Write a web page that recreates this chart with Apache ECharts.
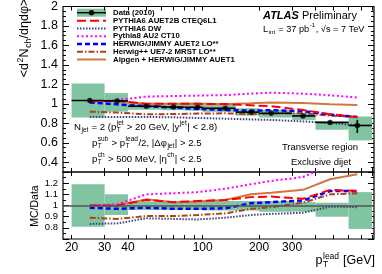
<!DOCTYPE html>
<html><head><meta charset="utf-8">
<script src="https://cdn.jsdelivr.net/npm/echarts@6/dist/echarts.min.js"></script>
<style>html,body{margin:0;padding:0;background:#fff}#c{width:382px;height:274px}</style>
</head><body><div id="c"></div>
<script>
// ---------- data ----------
const binEdges = [20, 30, 40, 60, 80, 100, 150, 200, 300, 400, 600, 800];
const ptCenters = [25, 35, 50, 70, 94, 132, 181, 232, 343, 478, 668];
const dataVal = [1.035, 1.03, 0.975, 0.967, 0.965, 0.955, 0.915, 0.903, 0.876, 0.808, 0.778];
const dataErrLo = [1.03, 1.025, 0.97, 0.962, 0.96, 0.95, 0.91, 0.898, 0.868, 0.795, 0.70];
const dataErrHi = [1.04, 1.035, 0.98, 0.972, 0.97, 0.96, 0.92, 0.908, 0.884, 0.82, 0.835];
const bandLo = [0.86, 0.92, 0.94, 0.935, 0.93, 0.92, 0.88, 0.86, 0.835, 0.735, 0.625];
const bandHi = [1.21, 1.11, 1.01, 1.0, 1.0, 0.99, 0.955, 0.94, 0.905, 0.825, 0.87];
const ratioBandLo = [0.81, 0.915, 0.96, 0.96, 0.96, 0.955, 0.955, 0.945, 0.945, 0.90, 0.79];
const ratioBandHi = [1.19, 1.10, 1.035, 1.035, 1.035, 1.04, 1.04, 1.04, 1.03, 1.025, 1.12];

const mcAUET2B  = [1.03, 1.03, 1.0, 1.0, 1.0, 0.998, 0.985, 0.975, 0.937, 0.893, 0.865];
const mcDW      = [0.865, 0.865, 0.865, 0.862, 0.855, 0.848, 0.84, 0.835, 0.82, 0.805, 0.778];
const mcPythia8 = [1.02, 1.04, 1.075, 1.08, 1.085, 1.09, 1.105, 1.115, 1.105, 1.088, 1.065];
const mcHerwig  = [1.015, 0.995, 0.975, 0.962, 0.948, 0.937, 0.93, 0.935, 0.925, 0.89, 0.865];
const mcHerwigpp= [0.92, 0.91, 0.893, 0.895, 0.9, 0.903, 0.893, 0.9, 0.903, 0.88, 0.865];
const mcAlpgen  = [1.03, 1.03, 1.0, 1.0, 1.003, 0.995, 1.005, 1.015, 1.01, 0.997, 0.988];

const rAUET2B   = [1.0, 1.0, 1.05, 1.03, 1.04, 1.05, 1.075, 1.08, 1.06, 1.14, 1.13];
const rDW       = [0.835, 0.84, 0.885, 0.88, 0.875, 0.89, 0.915, 0.925, 0.935, 0.99, 0.985];
const rPythia8  = [1.0, 1.01, 1.1, 1.11, 1.12, 1.15, 1.19, 1.22, 1.255, 1.36, 1.37];
const rHerwig   = [0.98, 0.97, 0.98, 0.97, 0.97, 0.975, 1.02, 1.03, 1.045, 1.13, 1.13];
const rHerwigpp = [0.89, 0.88, 0.905, 0.905, 0.915, 0.93, 0.97, 0.985, 1.025, 1.1, 1.11];
const rAlpgen   = [1.0, 1.0, 1.055, 1.03, 1.035, 1.05, 1.1, 1.115, 1.14, 1.235, 1.28];

const xTickValues = [20, 30, 40, 50, 60, 70, 80, 90, 100, 200, 300, 400, 500, 600, 700, 800];
const xLabelValues = [20, 30, 40, 100, 200, 300];
const mainYLabels = [0.4, 0.6, 0.8, 1, 1.2, 1.4, 1.6, 1.8, 2];
const ratioYLabels = [0.8, 0.9, 1, 1.1, 1.2];
const ratioYMajor = [0.7, 0.8, 0.9, 1, 1.1, 1.2, 1.3];

const legendNames = ['Data (2010)', 'PYTHIA6 AUET2B CTEQ6L1', 'PYTHIA6 DW', 'Pythia8 AU2 CT10',
  'HERWIG/JIMMY AUET2 LO**', 'Herwig++ UE7-2 MRST LO**', 'Alpgen + HERWIG/JIMMY AUET1'];

// ---------- styles ----------
const FONT = 'Liberation Sans';
const GREEN = '#80c4a1';
const styles = {
  AUET2B:  {color: '#ff0000', width: 2, dash: [9, 4]},
  DW:      {color: '#40407f', width: 2, dash: [1.5, 1.5]},
  Pythia8: {color: '#ff00ff', width: 2, dash: [2, 2.5]},
  Herwig:  {color: '#0000ff', width: 2.5, dash: [5, 3]},
  Herwigpp:{color: '#a8441c', width: 2, dash: [6, 2, 1.5, 2]},
  Alpgen:  {color: '#d27640', width: 2, dash: null}
};
const mainSets = [['Alpgen', mcAlpgen], ['DW', mcDW], ['Herwigpp', mcHerwigpp], ['Pythia8', mcPythia8], ['Herwig', mcHerwig], ['AUET2B', mcAUET2B]];
const ratioSets = [['Alpgen', rAlpgen], ['DW', rDW], ['Herwigpp', rHerwigpp], ['Pythia8', rPythia8], ['Herwig', rHerwig], ['AUET2B', rAUET2B]];

const L = v => Math.log10(v);
function steps(a, b, s) { const out = []; for (let v = a; v <= b + 1e-9; v += s) out.push(+v.toFixed(3)); return out; }
const mainYMinor = steps(0.3, 2.0, 0.05);
const ratioYMinor = steps(0.7, 1.3, 0.05);

// ---------- rich text helper ----------
const mctx = document.createElement('canvas').getContext('2d');
function measure(s, size, weight, style) {
  mctx.font = `${style || 'normal'} ${weight || 'normal'} ${size}px "${FONT}"`;
  return mctx.measureText(s).width;
}
function txt(s, x, y, size, weight, style, color) {
  return {type: 'text', x: x, y: y, style: {text: s, fontSize: size, fontFamily: FONT, fontWeight: weight || 'normal',
    fontStyle: style || 'normal', fill: color || '#000', align: 'left', verticalAlign: 'middle',
    textAlign: 'left', textVerticalAlign: 'middle'}};
}
function rich(markup, size, opt) {
  opt = opt || {};
  const toks = []; let i = 0, buf = '';
  while (i < markup.length) {
    const c = markup[i];
    if ((c === '_' || c === '^') && markup[i + 1] === '{') {
      if (buf) { toks.push({t: 'n', s: buf}); buf = ''; }
      const end = markup.indexOf('}', i + 2);
      const content = markup.slice(i + 2, end);
      const last = toks[toks.length - 1];
      if (last && last.t === 's' && !last[c]) last[c] = content;
      else { const o = {t: 's'}; o[c] = content; toks.push(o); }
      i = end + 1;
    } else { buf += c; i++; }
  }
  if (buf) toks.push({t: 'n', s: buf});
  const ch = []; let x = 0; const ss = size * 0.68;
  toks.forEach(t => {
    if (t.t === 'n') {
      ch.push(txt(t.s, x, 0, size, opt.weight, opt.style, opt.color));
      x += measure(t.s, size, opt.weight, opt.style);
    } else {
      let w = 0;
      if (t['^']) { ch.push(txt(t['^'], x + 0.5, -size * 0.36, ss)); w = Math.max(w, measure(t['^'], ss)); }
      if (t['_']) { ch.push(txt(t['_'], x + 0.5, size * 0.32, ss)); w = Math.max(w, measure(t['_'], ss)); }
      x += w + 1;
    }
  });
  return {children: ch, width: x};
}
function label(markup, x, y, size, align, opt) {
  const r = rich(markup, size, opt);
  const off = align === 'right' ? -r.width : align === 'center' ? -r.width / 2 : 0;
  r.children.forEach(c => { c.x += off; });
  const g = {type: 'group', x: x, y: y, children: r.children};
  if (opt && opt.rotate) g.rotation = opt.rotate;
  return g;
}

// ---------- graphics (texts + legend) ----------
const graphics = [];
graphics.push(label('<d^{2}N_{ch}/dηdφ>', 25, 38, 12.5, 'center', {rotate: Math.PI / 2}));
graphics.push(label('MC/Data', 35, 206, 10.5, 'center', {rotate: Math.PI / 2}));
graphics.push(label('p_{T}^{lead} [GeV]', 375, 261, 12.5, 'right'));
graphics.push(label('ATLAS', 263, 16, 11, 'left', {weight: 'bold', style: 'italic'}));
graphics.push(label('Preliminary', 302, 16, 11, 'left'));
graphics.push(label('L_{int} = 37 pb^{-1}, √s = 7 TeV', 263, 29, 9.2, 'left'));
graphics.push(label('N_{jet} = 2 (p_{T}^{jet} > 20 GeV, |y^{jet}| < 2.8)', 74, 127, 9.6, 'left'));
graphics.push(label('p_{T}^{sub} > p_{T}^{lead}/2, |Δφ_{jet}| > 2.5', 92, 143, 9.6, 'left'));
graphics.push(label('p_{T}^{ch} > 500 MeV, |η^{ch}| < 2.5', 92, 159, 9.6, 'left'));
graphics.push(label('Transverse region', 320, 147, 9.5, 'center'));
graphics.push(label('Exclusive dijet', 321, 162, 9.5, 'center'));

const legY = [12.7, 20.7, 28.6, 36.2, 43.9, 51.7, 59.5];
const legKeys = [null, 'AUET2B', 'DW', 'Pythia8', 'Herwig', 'Herwigpp', 'Alpgen'];
legendNames.forEach((n, k) => {
  const y = legY[k];
  if (k === 0) {
    graphics.push({type: 'rect', shape: {x: 77, y: y - 4, width: 29, height: 8}, style: {fill: GREEN}});
    graphics.push({type: 'line', shape: {x1: 77, y1: y, x2: 106, y2: y}, style: {stroke: '#000', lineWidth: 1.5}});
    graphics.push({type: 'circle', shape: {cx: 91.5, cy: y, r: 2.6}, style: {fill: '#000'}});
  } else {
    const s = styles[legKeys[k]];
    graphics.push({type: 'line', shape: {x1: 77, y1: y, x2: 106, y2: y},
      style: {stroke: s.color, lineWidth: s.width, lineDash: s.dash || null}});
  }
  graphics.push(txt(n, 113, y, 7.8, 'bold'));
});

// ---------- series ----------
const bins = ptCenters.map((_, i) => i);
function bandSeries(xi, yi, lo, hi, extra) {
  return Object.assign({
    type: 'custom', xAxisIndex: xi, yAxisIndex: yi, z: 1, silent: true,
    data: bins.map(i => [L(binEdges[i]), L(binEdges[i + 1]), lo[i], hi[i]]),
    encode: {x: [0, 1], y: [2, 3]},
    renderItem: (p, api) => {
      const a = api.coord([api.value(0), api.value(3)]);
      const b = api.coord([api.value(1), api.value(2)]);
      return {type: 'rect', shape: {x: a[0], y: a[1], width: b[0] - a[0], height: b[1] - a[1]}, style: {fill: GREEN}};
    }
  }, extra || {});
}
function lineSeries(xi, yi, key, vals) {
  const s = styles[key];
  return {type: 'line', xAxisIndex: xi, yAxisIndex: yi, z: 2, symbol: 'none', showSymbol: false, silent: true,
    clip: true, data: ptCenters.map((p, i) => [L(p), vals[i]]),
    lineStyle: {color: s.color, width: s.width, type: s.dash || 'solid'}};
}
const series = [];
series.push(bandSeries(0, 0, bandLo, bandHi));
mainSets.forEach(([k, v]) => series.push(lineSeries(0, 0, k, v)));
series.push({
  type: 'custom', xAxisIndex: 0, yAxisIndex: 0, z: 3, silent: true,
  data: bins.map(i => [L(binEdges[i]), L(binEdges[i + 1]), dataVal[i], dataErrLo[i], dataErrHi[i], L(ptCenters[i])]),
  encode: {x: [0, 1], y: [2, 3, 4]},
  renderItem: (p, api) => {
    const a = api.coord([api.value(0), api.value(2)]);
    const b = api.coord([api.value(1), api.value(2)]);
    const lo = api.coord([api.value(5), api.value(3)]);
    const hi = api.coord([api.value(5), api.value(4)]);
    return {type: 'group', children: [
      {type: 'line', shape: {x1: a[0], y1: a[1], x2: b[0], y2: b[1]}, style: {stroke: '#000', lineWidth: 1.6}},
      {type: 'line', shape: {x1: lo[0], y1: lo[1], x2: hi[0], y2: hi[1]}, style: {stroke: '#000', lineWidth: 1.6}}
    ]};
  }
});
series.push({type: 'scatter', xAxisIndex: 0, yAxisIndex: 0, z: 4, silent: true, symbol: 'circle', symbolSize: 5.5,
  itemStyle: {color: '#000'}, data: ptCenters.map((p, i) => [L(p), dataVal[i]])});
series.push(bandSeries(2, 4, ratioBandLo, ratioBandHi, {
  markLine: {silent: true, symbol: ['none', 'none'], label: {show: false}, animation: false,
    lineStyle: {color: '#555', width: 1.5, type: 'solid'}, data: [{yAxis: 1}]}
}));
ratioSets.forEach(([k, v]) => series.push(lineSeries(2, 4, k, v)));

// ---------- axes ----------
const X0 = L(18), X1 = L(820);
function xAx(grid, pos, labels) {
  return {type: 'value', gridIndex: grid, position: pos, min: X0, max: X1,
    axisLine: {show: false}, splitLine: {show: false},
    axisTick: {show: true, inside: true, length: 4, customValues: xTickValues.map(L), lineStyle: {color: '#000', width: 1}},
    axisLabel: labels ? {show: true, customValues: xLabelValues.map(L), formatter: v => String(Math.round(Math.pow(10, v))),
      fontSize: 12, fontFamily: FONT, color: '#000', margin: 3} : {show: false}};
}
function yAx(grid, pos, min, max, ticks, len, labels, fs) {
  return {type: 'value', gridIndex: grid, position: pos, min: min, max: max,
    axisLine: {show: false}, splitLine: {show: false},
    axisTick: {show: true, inside: true, length: len, customValues: ticks, lineStyle: {color: '#000', width: 1}},
    axisLabel: labels ? {show: true, customValues: labels, formatter: v => String(+(+v).toFixed(2)),
      fontSize: fs, fontFamily: FONT, color: '#000', margin: 5} : {show: false}};
}

const option = {
  animation: false,
  textStyle: {fontFamily: FONT},
  grid: [
    {left: 63, top: 5, width: 311, height: 167, show: true, borderColor: '#000', borderWidth: 1.2, backgroundColor: 'transparent'},
    {left: 63, top: 172, width: 311, height: 67, show: true, borderColor: '#000', borderWidth: 1.2, backgroundColor: 'transparent'}
  ],
  xAxis: [xAx(0, 'bottom', false), xAx(0, 'top', false), xAx(1, 'bottom', true), xAx(1, 'top', false)],
  yAxis: [
    yAx(0, 'left', 0.3, 2.0, mainYLabels, 6, mainYLabels, 12.5),
    yAx(0, 'left', 0.3, 2.0, mainYMinor, 3),
    yAx(0, 'right', 0.3, 2.0, mainYLabels, 6),
    yAx(0, 'right', 0.3, 2.0, mainYMinor, 3),
    yAx(1, 'left', 0.7, 1.3, ratioYMajor, 6, ratioYLabels, 9.5),
    yAx(1, 'left', 0.7, 1.3, ratioYMinor, 3),
    yAx(1, 'right', 0.7, 1.3, ratioYMajor, 6),
    yAx(1, 'right', 0.7, 1.3, ratioYMinor, 3)
  ],
  series: series,
  graphic: {elements: graphics}
};
const chart = echarts.init(document.getElementById('c'), null, {renderer: 'canvas'});
chart.setOption(option);
</script></body></html>
